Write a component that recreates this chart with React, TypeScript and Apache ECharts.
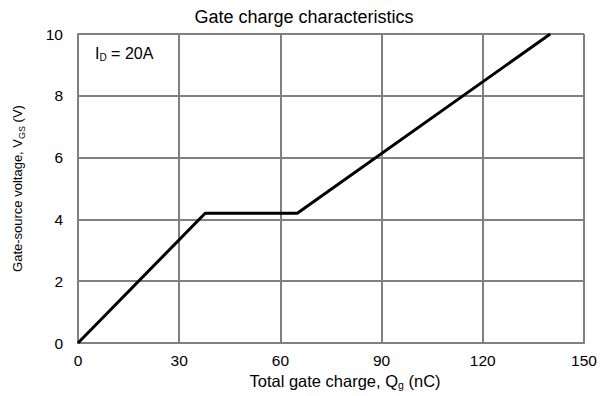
import React, { useEffect, useRef } from "react";
import * as echarts from "echarts";

const chargeNC = [0, 37.7, 65, 140];
const vgs = [0, 4.2, 4.2, 10];
const xTicks = [0, 30, 60, 90, 120, 150];
const yTicks = [0, 2, 4, 6, 8, 10];
const titleText = "Gate charge characteristics";
const annotation = "I{sub|D} = 20A";

export default function App() {
  const ref = useRef<HTMLDivElement>(null);
  useEffect(() => {
    if (!ref.current) return;
    const chart = echarts.init(ref.current, null, { renderer: "svg" });
    const font = "Liberation Sans, Arial, sans-serif";
    const grey = "#808080";
    const sub = (size: number) => ({
      fontSize: size,
      verticalAlign: "bottom",
      padding: [8, 0, 0, 0],
      fontFamily: font,
      color: "#000",
    });
    chart.setOption({
      animation: false,
      backgroundColor: "#ffffff",
      title: {
        text: titleText,
        left: "center",
        top: 3,
        textStyle: { fontFamily: font, fontSize: 18, fontWeight: "normal", color: "#000" },
      },
      grid: { left: 78, right: 24, top: 34, bottom: 53 },
      xAxis: {
        type: "value",
        min: xTicks[0],
        max: xTicks[xTicks.length - 1],
        interval: 30,
        name: "Total gate charge, Q{sub|g} (nC)",
        nameLocation: "middle",
        nameGap: 28,
        nameTextStyle: {
          fontFamily: font,
          fontSize: 16.5,
          color: "#000",
          padding: [0, 0, 0, 28],
          rich: { sub: sub(10.5) },
        },
        axisLine: { show: true, lineStyle: { color: grey, width: 2 } },
        axisTick: { show: false },
        axisLabel: { fontFamily: font, fontSize: 15.5, color: "#000", margin: 9 },
        splitLine: { show: true, lineStyle: { color: grey, width: 2 } },
      },
      yAxis: {
        type: "value",
        min: yTicks[0],
        max: yTicks[yTicks.length - 1],
        interval: 2,
        name: "Gate-source voltage, V{sub|GS} (V)",
        nameLocation: "middle",
        nameRotate: 90,
        nameGap: 52,
        nameTextStyle: { fontFamily: font, fontSize: 13, color: "#000", rich: { sub: sub(9) } },
        axisLine: { show: true, lineStyle: { color: grey, width: 2 } },
        axisTick: { show: false },
        axisLabel: { fontFamily: font, fontSize: 15.5, color: "#000", margin: 15 },
        splitLine: { show: true, lineStyle: { color: grey, width: 2 } },
      },
      graphic: [
        {
          type: "text",
          left: 95,
          top: 45,
          style: {
            text: annotation,
            fontFamily: font,
            fontSize: 16,
            fill: "#000",
            rich: { sub: { ...sub(10), fill: "#000" } },
          },
        },
      ],
      series: [
        {
          type: "line",
          data: chargeNC.map((x, i) => [x, vgs[i]]),
          showSymbol: false,
          symbol: "none",
          lineStyle: { color: "#000", width: 3 },
        },
      ],
    });
    return () => chart.dispose();
  }, []);
  return <div ref={ref} style={{ width: 608, height: 396, position: "absolute", left: 0, top: 0 }} />;
}
